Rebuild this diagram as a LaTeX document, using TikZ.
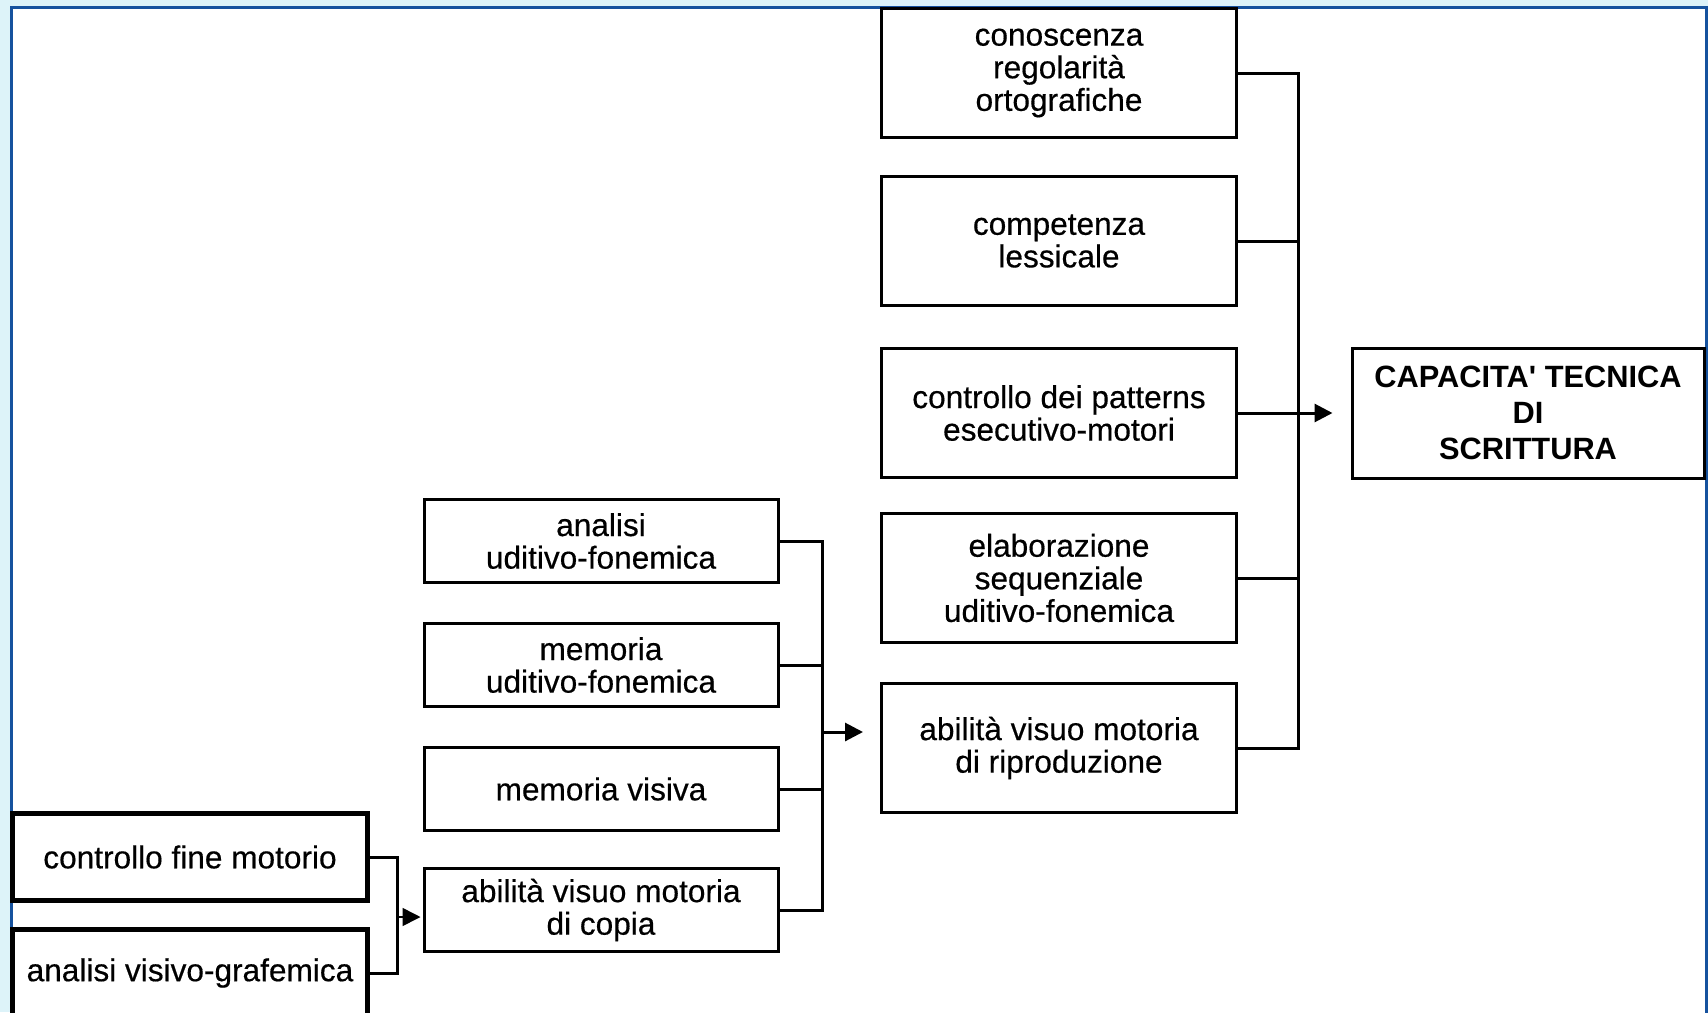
\documentclass[tikz,border=0pt]{standalone}
\usepackage{fontspec}
\newfontfamily\arialfont[BoldFont={Liberation Sans}, BoldFeatures={FakeBold=0.45}]{Liberation Sans}
\newfontfamily\arialbold{Liberation Sans Bold}
\usepackage{tikz}
\usetikzlibrary{arrows.meta}

\definecolor{bgblue}{RGB}{221,243,249}
\definecolor{frameblue}{RGB}{22,82,158}

\tikzset{
    box/.style={rectangle, draw, line width=1.5pt, fill=white, align=center, inner sep=0pt,
        font=\arialfont\bfseries\fontsize{15.8}{16.3}\selectfont},
    tallbox/.style={box, minimum width=177.5pt, minimum height=64.5pt},
    flatbox/.style={box, minimum width=177pt, minimum height=41.5pt},
    heavybox/.style={box, line width=2.6pt, minimum width=177.5pt, minimum height=43.5pt},
    goalbox/.style={box, minimum width=176pt, minimum height=65pt,
        font=\arialbold\fontsize{15.4}{18}\selectfont},
    feed/.style={-{Triangle[length=9pt,width=9pt]}, line width=1.5pt},
}

\begin{document}
\begin{tikzpicture}[x=0.5pt, y=-0.5pt, line width=1.5pt]
            % Frame
            \useasboundingbox (0,0) rectangle (1708,1012);
            \clip (0,0) rectangle (1708,1012);
            \fill[bgblue] (0,0) rectangle (1708,1012);
            \draw[frameblue, line width=1.5pt, fill=white] (11,7) rectangle (1706,1040);

            % Nodes
            \node[tallbox] (1) at (1059, 73) {conoscenza\\regolarità\\ortografiche};
            \node[tallbox] (2) at (1059, 241) {competenza\\lessicale};
            \node[tallbox] (3) at (1059, 413) {controllo dei patterns\\esecutivo-motori};
            \node[tallbox] (4) at (1059, 578) {elaborazione\\sequenziale\\uditivo-fonemica};
            \node[tallbox] (5) at (1059, 748) {abilità visuo motoria\\di riproduzione};

            \node[flatbox] (6) at (601, 541) {analisi\\uditivo-fonemica};
            \node[flatbox] (7) at (601, 665) {memoria\\uditivo-fonemica};
            \node[flatbox] (8) at (601, 789) {memoria visiva};
            \node[flatbox] (9) at (601, 910) {abilità visuo motoria\\di copia};

            \node[heavybox] (10) at (190, 857) {controllo fine motorio};
            \node[heavybox] (11) at (190, 973) {analisi visivo-grafemica};

            \node[goalbox] (12) at (1528, 413) {CAPACITA' TECNICA\\DI\\SCRITTURA};

            \coordinate (r) at (1298, 0);
            \coordinate (m) at (822, 0);
            \coordinate (l) at (397, 0);
            \coordinate (ma) at (822, 732);
            \coordinate (la) at (397, 917);

            % Lines
            \draw (1.east) -| (r |- 5.east) -- (5.east);
            \draw (2.east) -- (2.east -| r);
            \draw (4.east) -- (4.east -| r);
            \draw[feed, shorten >=9pt] (3.east) -- (12.west |- 3.east);

            \draw (6.east) -| (m |- 9.east) -- (9.east);
            \draw (7.east) -- (7.east -| m);
            \draw (8.east) -- (8.east -| m);
            \draw[feed, shorten >=8.5pt] (ma) -- (5.west |- ma);

            \draw (10.east) -| (l |- 11.east) -- (11.east);
            \draw[feed, line width=0.8pt, shorten >=1pt] (la) -- (9.west |- la);
        \end{tikzpicture}
\end{document}
